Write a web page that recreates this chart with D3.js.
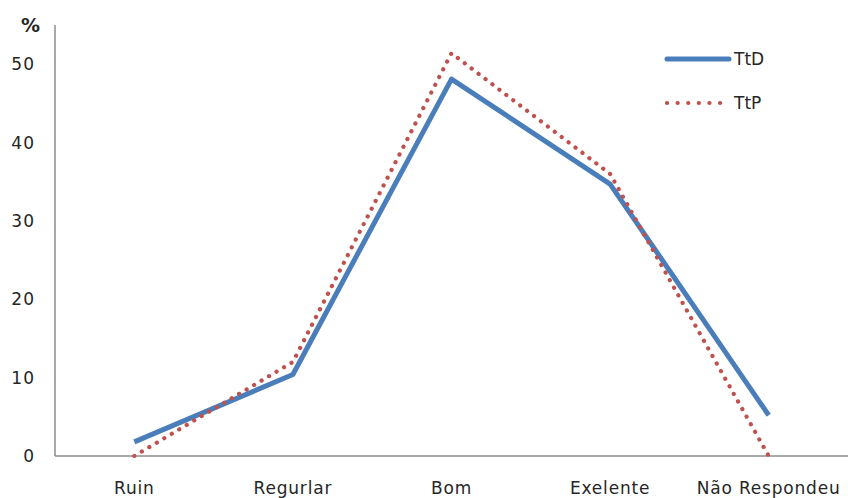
<!DOCTYPE html>
<html><head><meta charset="utf-8">
<script src="https://cdn.jsdelivr.net/npm/d3@7"></script>
<style>body{margin:0;background:#fff}text{font-family:"DejaVu Sans","Open Sans",sans-serif}</style>
</head><body><svg id="c" width="848" height="498"></svg>
<script>
const categories = ["Ruin", "Regurlar", "Bom", "Exelente", "Não Respondeu"];
const ttd = [1.8, 10.4, 48.1, 34.7, 5.2];
const ttp = [0, 12.0, 51.4, 36.0, 0];
const yTicks = [0, 10, 20, 30, 40, 50];
const seriesNames = ["TtD", "TtP"];

const svg = d3.select("#c");
const m = {left: 55, right: 0, top: 25, bottom: 42};
const W = 848, H = 498;
const x = d3.scalePoint().domain(categories).range([m.left, W]).padding(0.5);
const y = d3.scaleLinear().domain([0, 55]).range([456, m.top]);
const txt = "#262626";

// axes
svg.append("line").attr("x1", m.left).attr("x2", m.left).attr("y1", m.top).attr("y2", y(0))
  .attr("stroke", "#8c8c8c").attr("stroke-width", 1.5);
svg.append("line").attr("x1", m.left).attr("x2", W).attr("y1", y(0)).attr("y2", y(0))
  .attr("stroke", "#8c8c8c").attr("stroke-width", 1.5);

svg.selectAll(".yt").data(yTicks).enter().append("text")
  .attr("x", 35).attr("y", d => y(d)).attr("dy", "0.36em").attr("text-anchor", "end")
  .attr("font-size", 17).attr("letter-spacing", 1).attr("fill", txt).text(d => d);
svg.append("text").attr("x", 21).attr("y", 32).attr("font-size", 19).attr("font-weight", "bold")
  .attr("fill", txt).text("%");

svg.selectAll(".xt").data(categories).enter().append("text")
  .attr("x", d => x(d)).attr("y", 494).attr("text-anchor", "middle")
  .attr("font-size", 17).attr("letter-spacing", 0.8).attr("fill", txt).text(d => d);

const line = d3.line().x((d, i) => x(categories[i])).y(d => y(d));
svg.append("path").datum(ttd).attr("d", line).attr("fill", "none")
  .attr("stroke", "#4a7ebb").attr("stroke-width", 5).attr("stroke-linejoin", "round");
svg.append("path").datum(ttp).attr("d", line).attr("fill", "none")
  .attr("stroke", "#c0504d").attr("stroke-width", 4.2).attr("stroke-linecap", "round")
  .attr("stroke-dasharray", "0.1 8.6");

// legend
const lg = svg.append("g");
lg.append("line").attr("x1", 667).attr("x2", 729).attr("y1", 59).attr("y2", 59)
  .attr("stroke", "#4a7ebb").attr("stroke-width", 5).attr("stroke-linecap", "round");
lg.append("line").attr("x1", 667).attr("x2", 726).attr("y1", 103).attr("y2", 103)
  .attr("stroke", "#c0504d").attr("stroke-width", 4.2).attr("stroke-linecap", "round")
  .attr("stroke-dasharray", "0.1 10.5");
lg.append("text").attr("x", 734).attr("y", 59).attr("dy", "0.36em").attr("font-size", 17)
  .attr("fill", txt).text(seriesNames[0]);
lg.append("text").attr("x", 734).attr("y", 103).attr("dy", "0.36em").attr("font-size", 17)
  .attr("fill", txt).text(seriesNames[1]);
</script></body></html>
